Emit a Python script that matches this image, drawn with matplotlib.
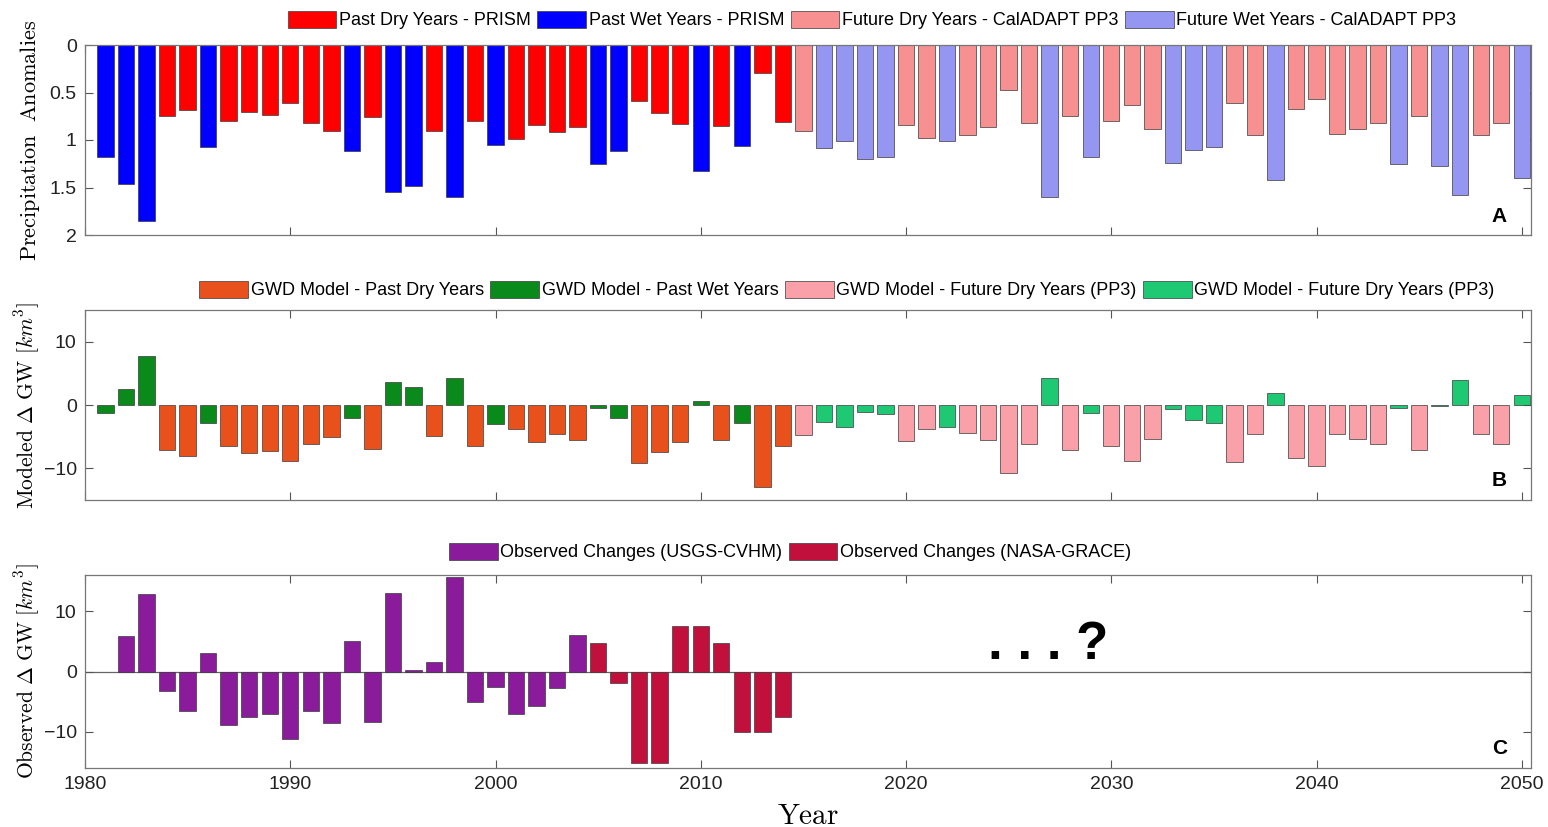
import numpy as np
import matplotlib
matplotlib.use("Agg")
import matplotlib.pyplot as plt

# 年份与降水异常 (PRISM 1981-2014, CalADAPT PP3 2015-2050)
years = list(range(1981, 2051))
precip_anom = [1.18, 1.46, 1.85, 0.75, 0.68, 1.07, 0.80, 0.70, 0.74, 0.61,
               0.82, 0.90, 1.12, 0.76, 1.55, 1.48, 0.91, 1.60, 0.80, 1.05,
               0.99, 0.84, 0.92, 0.86, 1.25, 1.12, 0.59, 0.72, 0.83, 1.33,
               0.85, 1.06, 0.29, 0.81, 0.91, 1.08, 1.01, 1.20, 1.18, 0.84,
               0.98, 1.01, 0.95, 0.86, 0.47, 0.82, 1.60, 0.75, 1.18, 0.80,
               0.63, 0.88, 1.24, 1.11, 1.07, 0.61, 0.95, 1.42, 0.67, 0.57,
               0.94, 0.88, 0.82, 1.25, 0.75, 1.27, 1.58, 0.95, 0.82, 1.40]
wet_years = [1981, 1982, 1983, 1986, 1993, 1995, 1996, 1998, 2000, 2005,
             2006, 2010, 2012, 2016, 2017, 2018, 2019, 2022, 2027, 2029,
             2033, 2034, 2035, 2038, 2044, 2046, 2047, 2050]
last_past_year = 2014

# GWD模型地下水变化 (km^3)
gwd_model = [-1.2, 2.6, 7.7, -7.1, -8.0, -2.8, -6.4, -7.6, -7.2, -8.9,
             -6.2, -5.1, -2.1, -6.9, 3.7, 2.9, -4.9, 4.3, -6.4, -3.0,
             -3.8, -5.8, -4.6, -5.6, -0.4, -2.1, -9.1, -7.4, -5.9, 0.7,
             -5.6, -2.9, -12.9, -6.4, -4.8, -2.7, -3.5, -1.1, -1.4, -5.7,
             -3.8, -3.5, -4.4, -5.6, -10.7, -6.2, 4.3, -7.1, -1.2, -6.4,
             -8.8, -5.4, -0.6, -2.3, -2.8, -9.0, -4.6, 1.9, -8.3, -9.6,
             -4.6, -5.4, -6.2, -0.4, -7.1, -0.15, 4.0, -4.6, -6.2, 1.6]

# 观测地下水变化
obs_years = list(range(1982, 2015))
obs_change = [5.9, 12.8, -3.3, -6.5, 3.0, -8.9, -7.6, -7.0, -11.2, -6.5,
              -8.5, 5.1, -8.3, 13.0, 0.2, 1.6, 15.6, -5.1, -2.5, -7.1,
              -5.8, -2.7, 6.1, 4.7, -1.9, -15.1, -15.1, 7.6, 7.6, 4.7,
              -10.0, -10.0, -7.6]
grace_start = 2005

plt.rcParams['font.family'] = ['Liberation Sans', 'DejaVu Sans']
plt.rcParams['mathtext.fontset'] = 'cm'

years = np.array(years)
precip_anom = np.array(precip_anom)
gwd_model = np.array(gwd_model)
obs_years = np.array(obs_years)
obs_change = np.array(obs_change)
is_wet = np.isin(years, wet_years)
is_past = years <= last_past_year

fig = plt.figure(figsize=(15.48, 8.27), dpi=100)
left = 85 / 1548
width = (1531 - 85) / 1548
axA = fig.add_axes([left, 1 - 235 / 827, width, 190 / 827])
axB = fig.add_axes([left, 1 - 500 / 827, width, 190 / 827])
axC = fig.add_axes([left, 1 - 768 / 827, width, 193 / 827])

bw = 0.8
edge = dict(edgecolor='#3a3a3a', linewidth=0.5)

# A: 降水异常
groups_A = [
    (is_past & ~is_wet, '#ff0000', 'Past Dry Years - PRISM'),
    (is_past & is_wet, '#0000ff', 'Past Wet Years - PRISM'),
    (~is_past & ~is_wet, '#f79090', 'Future Dry Years - CalADAPT PP3'),
    (~is_past & is_wet, '#9595f2', 'Future Wet Years - CalADAPT PP3'),
]
for m, c, lab in groups_A:
    axA.bar(years[m], precip_anom[m], width=bw, color=c, label=lab, **edge)
axA.set_ylim(2, 0)
axA.set_yticks([0, 0.5, 1, 1.5, 2])
axA.set_yticklabels(['0', '0.5', '1', '1.5', '2'])
axA.set_ylabel(r'$\mathrm{Precipitation\ \ Anomalies}$', fontsize=16)

# B: 模型
groups_B = [
    (is_past & ~is_wet, '#e8501c', 'GWD Model - Past Dry Years'),
    (is_past & is_wet, '#0b8a1c', 'GWD Model - Past Wet Years'),
    (~is_past & ~is_wet, '#f9a0a8', 'GWD Model - Future Dry Years (PP3)'),
    (~is_past & is_wet, '#1fc872', 'GWD Model - Future Dry Years (PP3)'),
]
for m, c, lab in groups_B:
    axB.bar(years[m], gwd_model[m], width=bw, color=c, label=lab, **edge)
axB.set_ylim(-15, 15)
axB.set_yticks([-10, 0, 10])
axB.set_ylabel(r'$\mathrm{Modeled}\ \Delta\ \mathrm{GW}\ [km^3]$', fontsize=15.5)

# C: 观测
usgs = obs_years < grace_start
axC.axhline(0, color='#666666', linewidth=0.9, zorder=0)
axC.bar(obs_years[usgs], obs_change[usgs], width=bw, color='#8a1c9c',
        label='Observed Changes (USGS-CVHM)', **edge)
axC.bar(obs_years[~usgs], obs_change[~usgs], width=bw, color='#c2103c',
        label='Observed Changes (NASA-GRACE)', **edge)
axC.set_ylim(-16, 16)
axC.set_yticks([-10, 0, 10])
axC.set_ylabel(r'$\mathrm{Observed}\ \Delta\ \mathrm{GW}\ [km^3]$', fontsize=15.5)
axC.set_xlabel(r'$\mathrm{Year}$', fontsize=21, labelpad=6)
axC.text(2026.9, 2.0, '. . . ?', fontsize=38, fontweight='bold', ha='center', va='baseline')

for ax, letter in zip([axA, axB, axC], ['A', 'B', 'C']):
    ax.set_axisbelow(True)
    ax.set_xlim(1980, 2050.45)
    ax.set_xticks(np.arange(1980, 2051, 10))
    ax.tick_params(direction='in', top=True, right=True, length=6, width=0.8,
                   colors='#555555', labelcolor='#222222', labelsize=14, pad=6)
    for s in ax.spines.values():
        s.set_color('#777777')
        s.set_linewidth(0.9)
    ax.text(0.978, 0.1, letter, transform=ax.transAxes, fontsize=15,
            fontweight='bold', ha='center', va='center')
    if ax is not axC:
        ax.set_xticklabels([])
    ax.yaxis.set_label_coords(-0.03, 0.5)

leg_kw = dict(loc='center', bbox_transform=fig.transFigure, ncol=4, frameon=False,
              fontsize=13, handlelength=2.7, handleheight=1.1, handletextpad=0.15,
              columnspacing=0.35, borderpad=0)
axA.legend(bbox_to_anchor=(872 / 1548, 1 - 20 / 827), **leg_kw)
axB.legend(bbox_to_anchor=(847 / 1548, 1 - 290 / 827), **leg_kw)
axC.legend(bbox_to_anchor=(790 / 1548, 1 - 552 / 827), **leg_kw)

fig.savefig('out.png', dpi=100)
